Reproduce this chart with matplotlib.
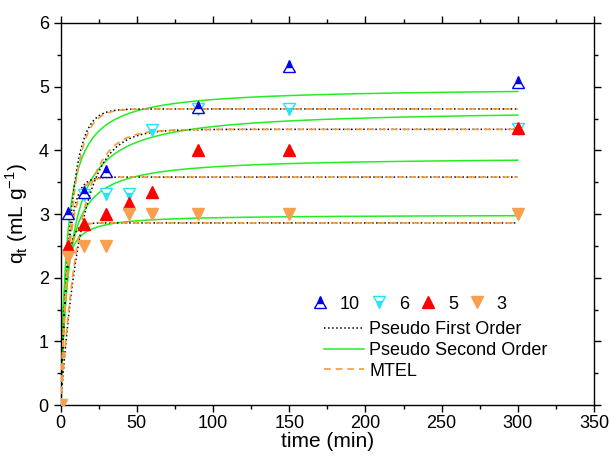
import matplotlib.pyplot as plt
import numpy as np
from matplotlib.lines import Line2D

plt.rcParams['font.family'] = ['Liberation Sans', 'DejaVu Sans']

# measured points, four concentrations
labels = ['10', '6', '5', '3']
t_10 = [5, 15, 30, 90, 150, 300]
q_10 = [3.02, 3.35, 3.68, 4.68, 5.33, 5.07]
t_6 = [15, 30, 45, 60, 90, 150, 300]
q_6 = [3.30, 3.32, 3.32, 4.32, 4.65, 4.65, 4.33]
t_5 = [0, 5, 15, 30, 45, 60, 90, 150, 300]
q_5 = [0, 2.50, 2.85, 3.00, 3.18, 3.35, 4.00, 4.00, 4.35]
t_3 = [0, 5, 15, 30, 45, 60, 90, 150, 300]
q_3 = [0, 2.33, 2.50, 2.50, 3.00, 3.00, 3.00, 3.00, 3.00]

# fitted model parameters (10, 6, 5, 3)
pfo_qe = [4.65, 4.33, 3.58, 2.86]
pfo_k = [0.15, 0.075, 0.22, 0.30]
pso_qe = [4.99, 4.65, 3.90, 2.99]
pso_k = [0.050, 0.034, 0.060, 0.20]
mtel_qe = [4.65, 4.33, 3.58, 2.86]
mtel_k = [0.14, 0.08, 0.20, 0.28]

t = np.linspace(0, 300, 601)

fig = plt.figure(figsize=(6.11, 4.59), dpi=100)
ax = fig.add_axes([0.0993, 0.1176, 0.8729, 0.8323])

for qe, k in zip(pso_qe, pso_k):
    ax.plot(t, qe * qe * k * t / (1 + qe * k * t), '-', color='#22ee22', lw=1.1, zorder=2)
for qe, k in zip(pfo_qe, pfo_k):
    ax.plot(t, qe * (1 - np.exp(-k * t)), ':', color='black', lw=1.1, zorder=3)
for qe, k in zip(mtel_qe, mtel_k):
    ax.plot(t, qe * (1 - np.exp(-k * t)), '--', color='#f39a3c', lw=1.2, dashes=(4, 3), zorder=3)

ms = 8
p10, = ax.plot(t_10, q_10, '^', color='#0000ee', mec='#0000ee', fillstyle='top',
               markerfacecoloralt='white', ms=ms, ls='none', zorder=5)
p6, = ax.plot(t_6, q_6, 'v', color='#22e5f5', mec='#22e5f5', fillstyle='bottom',
              markerfacecoloralt='white', ms=ms, ls='none', zorder=4)
p5, = ax.plot(t_5, q_5, '^', color='#ff0000', mec='#ff0000', ms=ms, ls='none', zorder=4)
p3, = ax.plot(t_3, q_3, 'v', color='#f8a050', mec='#f8a050', ms=ms, ls='none', zorder=4)

ax.set_xlim(0, 350)
ax.set_ylim(0, 6)
ax.set_xticks(np.arange(0, 351, 50))
ax.set_xticks(np.arange(25, 350, 50), minor=True)
ax.set_yticks(np.arange(0, 7, 1))
ax.set_yticks(np.arange(0.5, 6, 1), minor=True)
ax.tick_params(which='both', direction='out', top=True, right=True, labelsize=13, width=1)
ax.tick_params(which='major', length=5)
ax.tick_params(which='minor', length=3)
ax.tick_params(axis='x', pad=2)
for s in ax.spines.values():
    s.set_linewidth(1)

ax.set_xlabel('time (min)', fontsize=15, labelpad=0)
ax.set_ylabel('q$_\\mathregular{t}$ (mL g$^\\mathregular{-1}$)', fontsize=15, labelpad=6)

leg1 = ax.legend([p10, p6, p5, p3], labels, ncol=4, frameon=False, fontsize=13,
                 loc='upper left', bbox_to_anchor=(0.456, 0.305), handlelength=1.0,
                 handletextpad=0.6, columnspacing=0.55, borderaxespad=0)
ax.add_artist(leg1)
h = [Line2D([], [], ls=':', color='black', lw=1.1),
     Line2D([], [], ls='-', color='#22ee22', lw=1.1),
     Line2D([], [], ls='--', color='#f39a3c', lw=1.2, dashes=(4, 3))]
ax.legend(h, ['Pseudo First Order', 'Pseudo Second Order', 'MTEL'], frameon=False,
          fontsize=13, loc='upper left', bbox_to_anchor=(0.48, 0.238), handlelength=2.2,
          handletextpad=0.3, labelspacing=0.2, borderaxespad=0)

plt.savefig('out.png', dpi=100)
